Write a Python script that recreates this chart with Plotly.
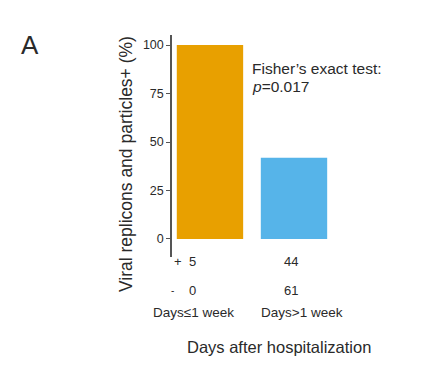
import plotly.graph_objects as go

categories = ["Days≤1 week", "Days>1 week"]
percent_positive = [100, 41.9]
positive_counts = [5, 44]
negative_counts = [0, 61]
bar_colors = ["#E8A000", "#56B4E9"]
y_ticks = [0, 25, 50, 75, 100]

FONT = "Liberation Sans, Arial, sans-serif"
TXT = "#2a2a2a"

fig = go.Figure()
fig.add_trace(go.Bar(
    x=[0, 1], y=percent_positive, width=0.79,
    marker=dict(color=bar_colors, line=dict(width=0)),
    showlegend=False,
))

ann = []
def A(x, y, text, size=11, xanchor="center", **kw):
    ann.append(dict(x=x, y=y, xref="paper", yref="paper", text=text, showarrow=False,
                    xanchor=xanchor, yanchor="middle",
                    font=dict(family=FONT, size=size, color=TXT), **kw))

# table rows
A(0.037, -0.0225, "+", 13)
A(0.0, -0.149, "-", 10)
count_x = [0.128, 0.726]
for cx, p, n in zip(count_x, positive_counts, negative_counts):
    A(cx, -0.0225, str(p), 13)
    A(cx, -0.149, str(n), 13)
label_x = [0.134, 0.793]
for lx, c in zip(label_x, categories):
    A(lx, -0.252, c, 13.5)
A(0.652, -0.405, "Days after hospitalization", 16.5)
A(-0.28, 0.419, "Viral replicons and particles+ (%)", 17.5, textangle=-90)
A(-0.866, 0.955, "A", 26)
A(0.476, 0.851, "Fisher’s exact test:", 15.5, xanchor="left")
A(0.476, 0.766, "<i>p</i>=0.017", 15.5, xanchor="left")

fig.update_layout(
    width=427, height=369,
    margin=dict(l=164, r=99, t=27, b=120),
    paper_bgcolor="white", plot_bgcolor="white",
    font=dict(family=FONT, color=TXT),
    annotations=ann,
    xaxis=dict(range=[-0.452, 1.5], visible=False),
    yaxis=dict(range=[-9.3, 105.2], tickvals=y_ticks, ticks="outside", ticklen=4,
               tickcolor="#555", showline=True, linecolor="#555", linewidth=1.5,
               showgrid=False, zeroline=False,
               tickfont=dict(size=12.5, family=FONT, color=TXT)),
)
fig.write_html("out.html")
